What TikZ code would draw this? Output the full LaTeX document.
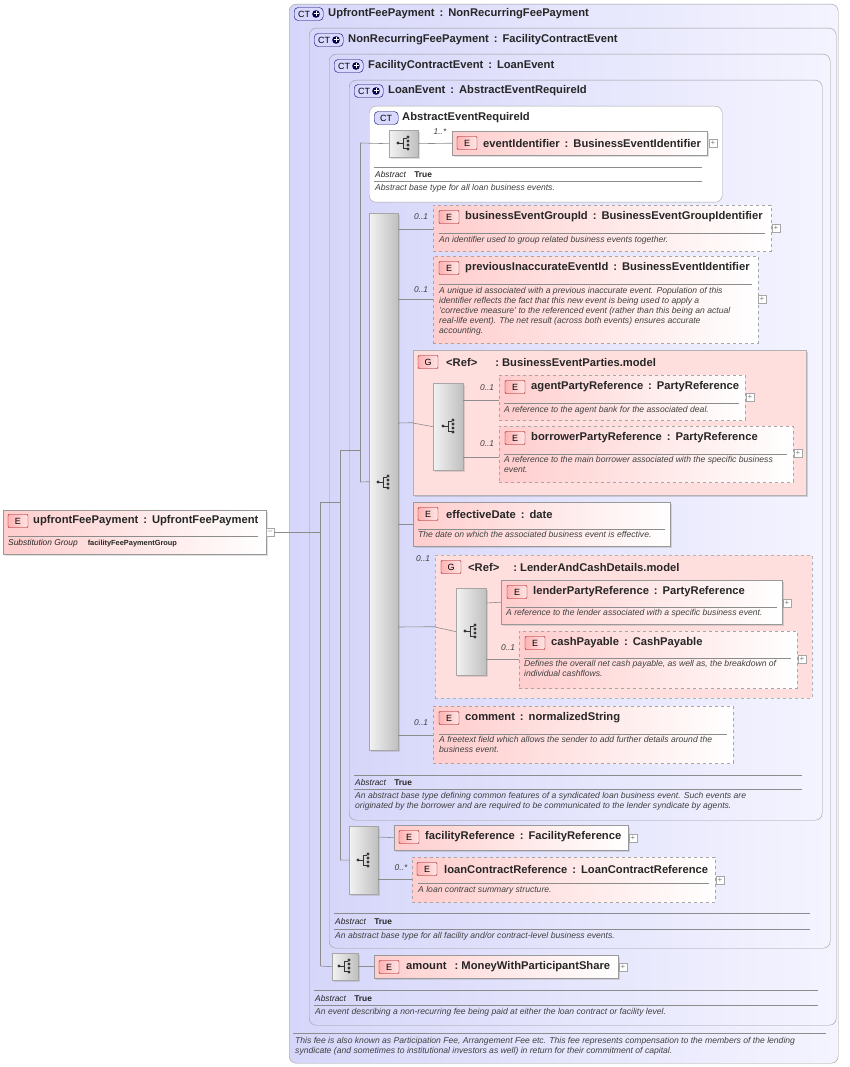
\documentclass[tikz,border=0pt]{standalone}
\usepackage{fontspec}
\setmainfont{Liberation Sans}
\usetikzlibrary{shadows}
\definecolor{ctL}{RGB}{214,214,250}
\definecolor{ctR}{RGB}{244,244,255}
\definecolor{eL}{RGB}{255,205,205}
\definecolor{gF}{RGB}{255,222,222}
\definecolor{ln}{RGB}{140,140,140}
\tikzset{
  ctbox/.style={draw=black!40, rounded corners=7pt, left color=ctL, right color=ctR, inner sep=0},
  ctwhite/.style={draw=black!35, rounded corners=7pt, fill=white, inner sep=0},
  esolid/.style={draw=black!40, left color=eL, right color=white, inner sep=0, drop shadow={opacity=0.25,shadow xshift=2pt,shadow yshift=-2pt}},
  edash/.style={draw=black!35, dashed, left color=eL, right color=white, inner sep=0},
  gsolid/.style={draw=black!30, fill=gF, inner sep=0, drop shadow={opacity=0.3,shadow xshift=2pt,shadow yshift=-2pt}},
  gdash/.style={draw=black!30, dashed, fill=gF, inner sep=0},
  seqbox/.style={draw=black!35, left color=black!5, right color=black!25, inner sep=0, drop shadow={opacity=0.25,shadow xshift=2pt,shadow yshift=-2pt}},
  badge/.style={draw=red!60!black, rounded corners=1pt, left color=red!30, right color=red!10, minimum width=20pt, minimum height=13pt, inner sep=0, font=\fontsize{9}{10}\selectfont},
  ctbadge/.style={draw=blue!40!black, rounded corners=4pt, fill=blue!15, minimum width=29pt, minimum height=13pt, inner sep=0, font=\fontsize{9}{10}\selectfont},
  ttl/.style={anchor=west, inner sep=0, font=\fontsize{11.2}{13}\bfseries\selectfont, text=black!85},
  dsc/.style={anchor=north west, inner sep=0, align=left, font=\fontsize{8.6}{10}\itshape\selectfont, text=black!75},
  card/.style={inner sep=0, font=\fontsize{8.4}{9}\itshape\selectfont, text=black!75},
  abs/.style={anchor=west, inner sep=0, font=\fontsize{8.4}{9}\selectfont, text=black!85},
  con/.style={draw=ln, line width=0.6pt},
  sep/.style={draw=black!45, line width=0.5pt},
  pbox/.style={draw=black!35, fill=white, minimum size=8pt, inner sep=0, font=\fontsize{8}{8}\selectfont, text=black!50},
}
\newcommand\bx[6]{\pgfmathsetmacro\ww{#4-#2}\pgfmathsetmacro\hh{#5-#3}%
  \node[#6, anchor=north west, minimum width=\ww pt, minimum height=\hh pt] (#1) at (#2,#3) {};}
\newcommand\seqicon[2]{%
  \fill[black!80] (#1-6,#2) circle (1.6pt);
  \draw[black!80, line width=0.8pt] (#1-6,#2) -- (#1-1,#2) (#1-1,#2-5) -- (#1-1,#2+5) (#1-1,#2-5) -- (#1+3,#2-5) (#1-1,#2+5) -- (#1+3,#2+5);
  \fill[black!80] (#1+4,#2-6) circle (1.6pt) (#1+4,#2-2) circle (1.6pt) (#1+4,#2+2) circle (1.6pt) (#1+4,#2+6) circle (1.6pt);}
\newcommand\ctb[3]{\node[ctbadge, anchor=west] (#1) at (#2,#3) {\hspace{-9pt}CT};
  \fill[blue!30!black] (#2+22,#3) circle (3.8pt);
  \draw[white, line width=1pt] (#2+19.5,#3) -- (#2+24.5,#3) (#2+22,#3-2.5) -- (#2+22,#3+2.5);}
\newcommand\cl{\ \,:\,\ }
\begin{document}
\begin{tikzpicture}[x=1pt,y=-1pt]
\useasboundingbox[fill=white] (0,0) rectangle (850,1067);
% CT boxes
\bx{upct}{289}{4}{838}{1063}{ctbox}
\bx{nrct}{309}{28}{836}{1025}{ctbox}
\bx{fcct}{329}{54}{830}{948}{ctbox}
\bx{lect}{349}{80}{822}{820}{ctbox}
\bx{aect}{369}{106}{722}{202}{ctwhite}
\ctb{b1}{294}{14}\node[ttl] (t1) at (328,14) {UpfrontFeePayment\cl NonRecurringFeePayment};
\ctb{b2}{314}{40}\node[ttl] (t2) at (348,40) {NonRecurringFeePayment\cl FacilityContractEvent};
\ctb{b3}{334}{66}\node[ttl] (t3) at (368,66) {FacilityContractEvent\cl LoanEvent};
\ctb{b4}{354}{91}\node[ttl] (t4) at (388,91) {LoanEvent\cl AbstractEventRequireId};
\node[ctbadge, anchor=west, minimum width=24pt] (b5) at (374,118) {CT};
\node[ttl] (t5) at (402,118) {AbstractEventRequireId};
% footers
\draw[sep] (293,1033) -- (826,1033);
\node[dsc] (d1) at (295,1037) {This fee is also known as Participation Fee, Arrangement Fee etc. This fee represents compensation to the members of the lending\\syndicate (and sometimes to institutional investors as well) in return for their commitment of capital.};
\draw[sep] (314,990) -- (818,990) (314,1005) -- (818,1005);
\node[abs] (a2) at (315,998) {\textit{Abstract}\hspace{8pt}\textbf{True}};
\node[dsc] (d2) at (315,1008) {An event describing a non-recurring fee being paid at either the loan contract or facility level.};
\draw[sep] (334,913) -- (810,913) (334,929) -- (810,929);
\node[abs] (a3) at (335,921) {\textit{Abstract}\hspace{8pt}\textbf{True}};
\node[dsc] (d3) at (335,932) {An abstract base type for all facility and/or contract-level business events.};
\draw[sep] (354,775) -- (802,775) (354,789) -- (802,789);
\node[abs] (a4) at (355,782) {\textit{Abstract}\hspace{8pt}\textbf{True}};
\node[dsc] (d4) at (355,792) {An abstract base type defining common features of a syndicated loan business event. Such events are\\originated by the borrower and are required to be communicated to the lender syndicate by agents.};
\draw[sep] (374,167) -- (702,167) (374,181) -- (702,181);
\node[abs] (a5) at (375,174) {\textit{Abstract}\hspace{8pt}\textbf{True}};
\node[dsc] (d5) at (375,184) {Abstract base type for all loan business events.};
% tree connectors
\bx{up}{3}{510}{266}{554}{esolid}
\node[badge] (upb) at (18,521) {E};
\node[ttl] (upt) at (33,521) {upfrontFeePayment\cl UpfrontFeePayment};
\draw[sep] (8,536) -- (258,536);
\node[abs] (ups) at (8,543) {\textit{Substitution Group}\hspace{10pt}\textbf{\fontsize{7.4}{8}\selectfont facilityFeePaymentGroup}};
\node[pbox] (upm) at (270,532) {--};
\coordinate (j1) at (320,532);
\draw[con] (upm.east) -- (j1);
\draw[con] (320,502) -- (320,966) (320,502) -- (340,502) (340,450) -- (340,860) (340,450) -- (360,450) (360,143) -- (360,482);
% abstract event seq
\bx{s1}{389}{130}{418}{157}{seqbox}\seqicon{404}{143}
\bx{ev}{452}{131}{707}{155}{esolid}
\node[badge] (evb) at (467,143) {E};
\node[ttl] (evt) at (483,143) {eventIdentifier\cl BusinessEventIdentifier};
\node[pbox] (evp) at (713,143) {+};
\node[card] at (440,132) {1..*};
\draw[con] (360,143) -- (s1.west) (s1.east) -- (ev.west);
% main seq
\bx{s2}{369}{213}{398}{750}{seqbox}\seqicon{384}{482}
\draw[con] (360,482) -- (s2.west);
% businessEventGroupId
\bx{bg}{433}{205}{771}{251}{edash}
\node[badge] (bgb) at (449,217) {E};
\node[ttl] (bgt) at (465,217) {businessEventGroupId\cl BusinessEventGroupIdentifier};
\draw[sep] (439,233) -- (765,233);
\node[dsc] at (439,236) {An identifier used to group related business events together.};
\node[pbox] at (776,228) {+};
\node[card] at (421,217) {0..1};
\draw[con] (398,229) -- (433,229);
% previousInaccurate
\bx{pi}{433}{256}{758}{343}{edash}
\node[badge] (pib) at (449,268) {E};
\node[ttl] (pit) at (465,268) {previousInaccurateEventId\cl BusinessEventIdentifier};
\draw[sep] (439,284) -- (752,284);
\node[dsc] at (439,287) {A unique id associated with a previous inaccurate event. Population of this\\identifier reflects the fact that this new event is being used to apply a\\'corrective measure' to the referenced event (rather than this being an actual\\real-life event). The net result (across both events) ensures accurate\\accounting.};
\node[pbox] at (762,299) {+};
\node[card] at (421,290) {0..1};
\draw[con] (398,299) -- (433,299);
% group parties
\bx{g1}{413}{350}{806}{495}{gsolid}
\node[badge] (g1b) at (428,362) {G};
\node[ttl] (g1t) at (446,362) {<Ref>\hspace{18pt}:\ BusinessEventParties.model};
\draw[con] (398,423) -- (g1.west);
\bx{s3}{433}{383}{463}{470}{seqbox}\seqicon{449}{426}
\draw[con] (413,423) -- (s3.west);
\bx{ag}{499}{375}{745}{420}{edash}
\node[badge] (agb) at (515,387) {E};
\node[ttl] (agt) at (531,387) {agentPartyReference\cl PartyReference};
\draw[sep] (504,403) -- (739,403);
\node[dsc] at (504,406) {A reference to the agent bank for the associated deal.};
\node[pbox] at (750,397) {+};
\node[card] at (487,388) {0..1};
\draw[con] (463,400) -- (499,400);
\bx{bo}{499}{426}{793}{482}{edash}
\node[badge] (bob) at (515,438) {E};
\node[ttl] (bot) at (531,438) {borrowerPartyReference\cl PartyReference};
\draw[sep] (504,454) -- (787,454);
\node[dsc] at (504,456) {A reference to the main borrower associated with the specific business\\event.};
\node[pbox] at (798,453) {+};
\node[card] at (487,444) {0..1};
\draw[con] (463,457) -- (499,457);
% effectiveDate
\bx{ed}{413}{502}{670}{546}{esolid}
\node[badge] (edb) at (428,514) {E};
\node[ttl] (edt) at (446,514) {effectiveDate\cl date};
\draw[sep] (418,529) -- (665,529);
\node[dsc] at (418,531) {The date on which the associated business event is effective.};
\draw[con] (398,524) -- (413,524);
% lender group
\bx{g2}{435}{555}{812}{698}{gdash}
\node[badge] (g2b) at (451,567) {G};
\node[ttl] (g2t) at (468,567) {<Ref>\hspace{14pt}:\ LenderAndCashDetails.model};
\node[card] at (423,559) {0..1};
\draw[con] (398,627) -- (g2.west);
\bx{s4}{456}{588}{486}{675}{seqbox}\seqicon{471}{631}
\draw[con] (435,627) -- (s4.west);
\bx{lp}{501}{580}{782}{624}{esolid}
\node[badge] (lpb) at (517,592) {E};
\node[ttl] (lpt) at (533,592) {lenderPartyReference\cl PartyReference};
\draw[sep] (506,607) -- (777,607);
\node[dsc] at (506,609) {A reference to the lender associated with a specific business event.};
\node[pbox] at (787,603) {+};
\draw[con] (486,603) -- (lp.west);
\bx{cp}{519}{631}{797}{688}{edash}
\node[badge] (cpb) at (535,643) {E};
\node[ttl] (cpt) at (551,643) {cashPayable\cl CashPayable};
\draw[sep] (524,658) -- (791,658);
\node[dsc] at (524,660) {Defines the overall net cash payable, as well as, the breakdown of\\individual cashflows.};
\node[pbox] at (802,659) {+};
\node[card] at (508,648) {0..1};
\draw[con] (486,659) -- (519,659);
% comment
\bx{cm}{433}{706}{733}{763}{edash}
\node[badge] (cmb) at (449,718) {E};
\node[ttl] (cmt) at (465,718) {comment\cl normalizedString};
\draw[sep] (439,734) -- (727,734);
\node[dsc] at (439,736) {A freetext field which allows the sender to add further details around the\\business event.};
\node[card] at (421,723) {0..1};
\draw[con] (398,735) -- (433,735);
% facility seq
\bx{s5}{349}{826}{378}{894}{seqbox}\seqicon{364}{860}
\draw[con] (340,860) -- (s5.west);
\bx{fr}{394}{825}{628}{850}{esolid}
\node[badge] (frb) at (409,837) {E};
\node[ttl] (frt) at (425,837) {facilityReference\cl FacilityReference};
\node[pbox] at (633,838) {+};
\draw[con] (378,837) -- (fr.west);
\bx{lc}{412}{857}{715}{902}{edash}
\node[badge] (lcb) at (427,869) {E};
\node[ttl] (lct) at (444,869) {loanContractReference\cl LoanContractReference};
\draw[sep] (418,883) -- (709,883);
\node[dsc] at (418,886) {A loan contract summary structure.};
\node[pbox] at (720,880) {+};
\node[card] at (401,868) {0..*};
\draw[con] (378,879) -- (412,879);
% amount seq
\bx{s6}{332}{953}{358}{980}{seqbox}\seqicon{345}{966}
\draw[con] (320,966) -- (s6.west);
\bx{am}{374}{955}{618}{978}{esolid}
\node[badge] (amb) at (389,967) {E};
\node[ttl] (amt) at (406,967) {amount\hspace{8pt}:\ MoneyWithParticipantShare};
\node[pbox] at (623,967) {+};
\draw[con] (s6.east) -- (am.west);
\end{tikzpicture}
\end{document}
